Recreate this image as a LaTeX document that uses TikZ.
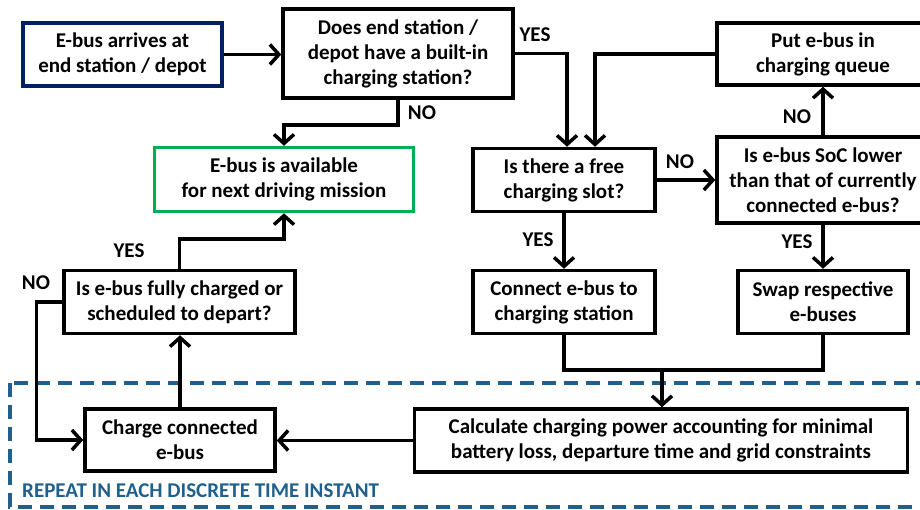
\documentclass[tikz,border=0pt]{standalone}
\usepackage{fontspec}
\setmainfont{Carlito}
\usetikzlibrary{arrows.meta}
\definecolor{navyb}{RGB}{0,32,96}
\definecolor{greenb}{RGB}{0,176,80}
\definecolor{dashblue}{RGB}{31,96,140}
\tikzset{
  box/.style={draw=black, line width=3.5pt, rectangle, align=center, inner sep=0pt,
    font=\fontsize{21}{25}\selectfont\bfseries, text=black},
  conn/.style={line width=3.5pt, draw=black},
  arr/.style={conn, -{Straight Barb[length=9pt,width=20pt,line width=3.5pt]}},
  lbl/.style={font=\fontsize{21}{22}\selectfont\bfseries, inner sep=0pt}
}
\begin{document}
\begin{tikzpicture}[x=1pt,y=-1pt]
\useasboundingbox (0,0) rectangle (920,509);
% dashed region
\draw[dashblue, line width=3.5pt, dash pattern=on 14pt off 8pt] (10,383) rectangle (940,507);
\node[lbl, text=dashblue, anchor=west] (rep) at (22,491) {REPEAT IN EACH DISCRETE TIME INSTANT};
% boxes
\node[box, draw=navyb, minimum width=199pt, minimum height=63pt] (b1) at (122.5,54.5) {E-bus arrives at\\end station / depot};
\node[box, minimum width=230pt, minimum height=89pt] (b2) at (398,53.5) {Does end station /\\depot have a built-in\\charging station?};
\node[box, draw=greenb, minimum width=259pt, minimum height=64pt] (b3) at (284,179.5) {E-bus is available\\for next driving mission};
\node[box, minimum width=231pt, minimum height=63pt] (b4) at (179.5,302) {Is e-bus fully charged or\\scheduled to depart?};
\node[box, minimum width=190pt, minimum height=62pt] (b5) at (180,440) {Charge connected\\e-bus};
\node[box, minimum width=493pt, minimum height=63pt] (b7) at (661,440.5) {Calculate charging power accounting for minimal\\battery loss, departure time and grid constraints};
\node[box, minimum width=182pt, minimum height=63pt] (b8) at (564,302) {Connect e-bus to\\charging station};
\node[box, minimum width=170pt, minimum height=63pt] (b9) at (823,302) {Swap respective\\e-buses};
\node[box, minimum width=182pt, minimum height=63pt] (b10) at (564,180) {Is there a free\\charging slot?};
\node[box, minimum width=212pt, minimum height=86pt] (b11) at (823,180) {Is e-bus SoC lower\\than that of currently\\connected e-bus?};
\node[box, minimum width=212pt, minimum height=62pt] (b12) at (823,54) {Put e-bus in\\charging queue};
% connectors
\draw[arr] (b1.east) -- (b1.east -| b2.west);
\draw[arr] (b2.south) -- ++(0,25) -| (b3.north);
\draw[arr] (b2.east) -| ([xshift=3pt]b10.north);
\draw[arr] (b12.west) -| ([xshift=31pt]b10.north);
\draw[arr] (b10.east) -- (b11.west);
\draw[arr] (b11.north) -- (b12.south);
\draw[arr] (b11.south) -- (b9.north);
\draw[arr] (b10.south) -- (b8.north);
\coordinate (m) at (662,370);
\draw[conn] (b8.south) |- (m) -| (b9.south);
\draw[arr] (m) -- (m |- b7.north);
\draw[arr] (b7.west) -- (b7.west -| b5.east);
\draw[arr] (b5.north) -- (b5.north |- b4.south);
\draw[arr] (b4.west) -- ++(-26,0) |- (b5.west);
\draw[arr] (b4.north) -- ++(0,-30) -| (b3.south);
% labels
\node[lbl] (l1) at (422,113) {NO};
\node[lbl] (l2) at (535,35) {YES};
\node[lbl] (l3) at (680,162) {NO};
\node[lbl] (l4) at (797,117) {NO};
\node[lbl] (l5) at (797,242) {YES};
\node[lbl] (l6) at (538,240) {YES};
\node[lbl] (l7) at (36,283) {NO};
\node[lbl] (l8) at (129,251) {YES};
\end{tikzpicture}
\end{document}
